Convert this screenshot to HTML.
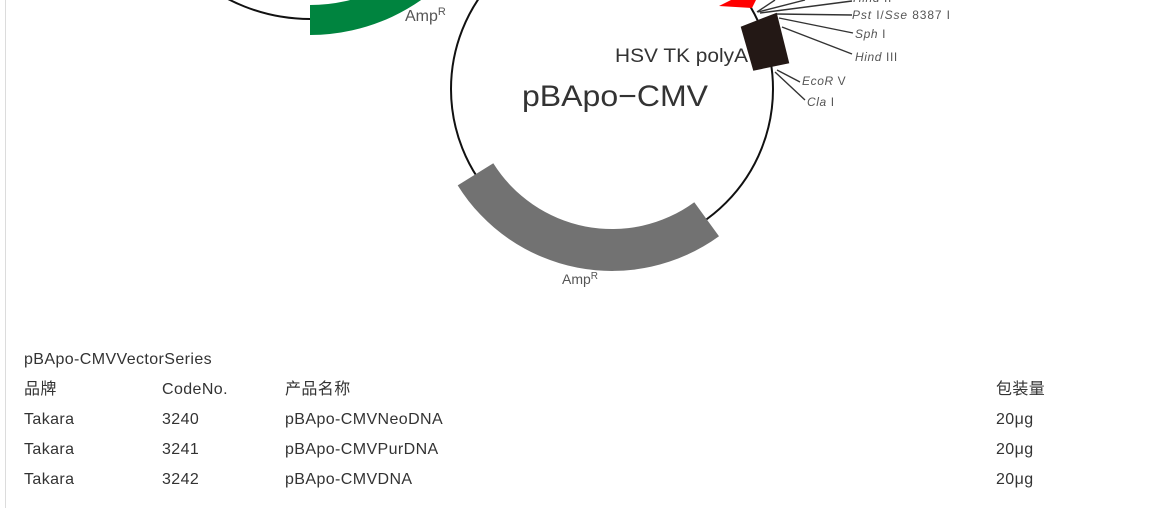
<!DOCTYPE html>
<html>
<head>
<meta charset="utf-8">
<style>
  html,body{margin:0;padding:0;background:#fff;}
  body{width:1151px;height:508px;position:relative;overflow:hidden;}
  .bar{position:absolute;left:5px;top:0;width:1px;height:508px;background:#dcdcdc;}
  .t{position:absolute;font-family:"Liberation Sans","Noto Sans CJK SC",sans-serif;font-size:16px;color:#333;line-height:30px;white-space:nowrap;letter-spacing:0.4px;}
  svg{position:absolute;left:0;top:0;}
</style>
</head>
<body>
<div class="bar"></div>
<svg width="1151" height="330" viewBox="0 0 1151 330" xmlns="http://www.w3.org/2000/svg">
  <!-- top-left partial plasmid -->
  <circle cx="310" cy="-159" r="178" fill="none" stroke="#111" stroke-width="2"/>
  <path d="M310 35 A194 194 0 0 0 458.6 -34.3 L435.6 -53.6 A164 164 0 0 1 310 5 Z" fill="#00843f"/>
  <text x="405" y="21" font-family="Liberation Sans, sans-serif" font-size="16" fill="#555">Amp<tspan font-size="11" dy="-6">R</tspan></text>

  <!-- main plasmid -->
  <circle cx="612" cy="89" r="161" fill="none" stroke="#111" stroke-width="2"/>
  <path d="M719 236.2 A182 182 0 0 1 457.7 185.4 L493.3 163.2 A140 140 0 0 0 694.3 202.3 Z" fill="#727272"/>
  <text x="562" y="284" font-family="Liberation Sans, sans-serif" font-size="14" fill="#555">Amp<tspan font-size="10" dy="-5">R</tspan></text>

  <!-- red arrow -->
  <polygon points="719,6 731,0 756,0 752,8" fill="#ff0000"/>

  <!-- restriction lines -->
  <g stroke="#333" stroke-width="1.4" fill="none">
    <line x1="757" y1="12" x2="775" y2="0"/>
    <line x1="758" y1="12" x2="805" y2="0"/>
    <line x1="760" y1="13" x2="852" y2="1"/>
    <line x1="776" y1="14" x2="852" y2="15"/>
    <line x1="779" y1="18" x2="853" y2="33"/>
    <line x1="782" y1="27" x2="852" y2="54"/>
    <line x1="777" y1="70" x2="800" y2="82"/>
    <line x1="775" y1="72" x2="805" y2="100"/>
  </g>

  <!-- HSV TK polyA box -->
  <polygon points="740.7,26.7 776.7,12.7 789.3,63.3 753.3,70.7" fill="#231815"/>

  <!-- labels -->
  <g font-family="Liberation Sans, sans-serif" font-size="12" fill="#555">
    <text x="853" y="2" letter-spacing="0.6"><tspan font-style="italic">Hind</tspan> II</text>
    <text x="852" y="19" textLength="98" lengthAdjust="spacing"><tspan font-style="italic">Pst</tspan> I/<tspan font-style="italic">Sse</tspan>  8387  I</text>
    <text x="855" y="38" letter-spacing="0.6"><tspan font-style="italic">Sph</tspan> I</text>
    <text x="855" y="61" letter-spacing="0.6"><tspan font-style="italic">Hind</tspan>  III</text>
    <text x="802" y="85" letter-spacing="0.6"><tspan font-style="italic">EcoR</tspan>  V</text>
    <text x="807" y="106" letter-spacing="0.6"><tspan font-style="italic">Cla</tspan> I</text>
  </g>
  <text x="615" y="62" font-family="Liberation Sans, sans-serif" font-size="19" fill="#333" textLength="133" lengthAdjust="spacingAndGlyphs">HSV TK polyA</text>
  <text x="522" y="106" font-family="Liberation Sans, sans-serif" font-size="30" fill="#333" textLength="186" lengthAdjust="spacingAndGlyphs">pBApo−CMV</text>
</svg>

<div class="t" style="left:24px;top:345px;">pBApo-CMVVectorSeries</div>
<div class="t" style="left:24px;top:375px;">品牌</div>
<div class="t" style="left:162px;top:375px;">CodeNo.</div>
<div class="t" style="left:285px;top:375px;">产品名称</div>
<div class="t" style="left:996px;top:375px;">包装量</div>

<div class="t" style="left:24px;top:405px;">Takara</div>
<div class="t" style="left:162px;top:405px;">3240</div>
<div class="t" style="left:285px;top:405px;">pBApo-CMVNeoDNA</div>
<div class="t" style="left:996px;top:405px;">20μg</div>

<div class="t" style="left:24px;top:435px;">Takara</div>
<div class="t" style="left:162px;top:435px;">3241</div>
<div class="t" style="left:285px;top:435px;">pBApo-CMVPurDNA</div>
<div class="t" style="left:996px;top:435px;">20μg</div>

<div class="t" style="left:24px;top:465px;">Takara</div>
<div class="t" style="left:162px;top:465px;">3242</div>
<div class="t" style="left:285px;top:465px;">pBApo-CMVDNA</div>
<div class="t" style="left:996px;top:465px;">20μg</div>
</body>
</html>
